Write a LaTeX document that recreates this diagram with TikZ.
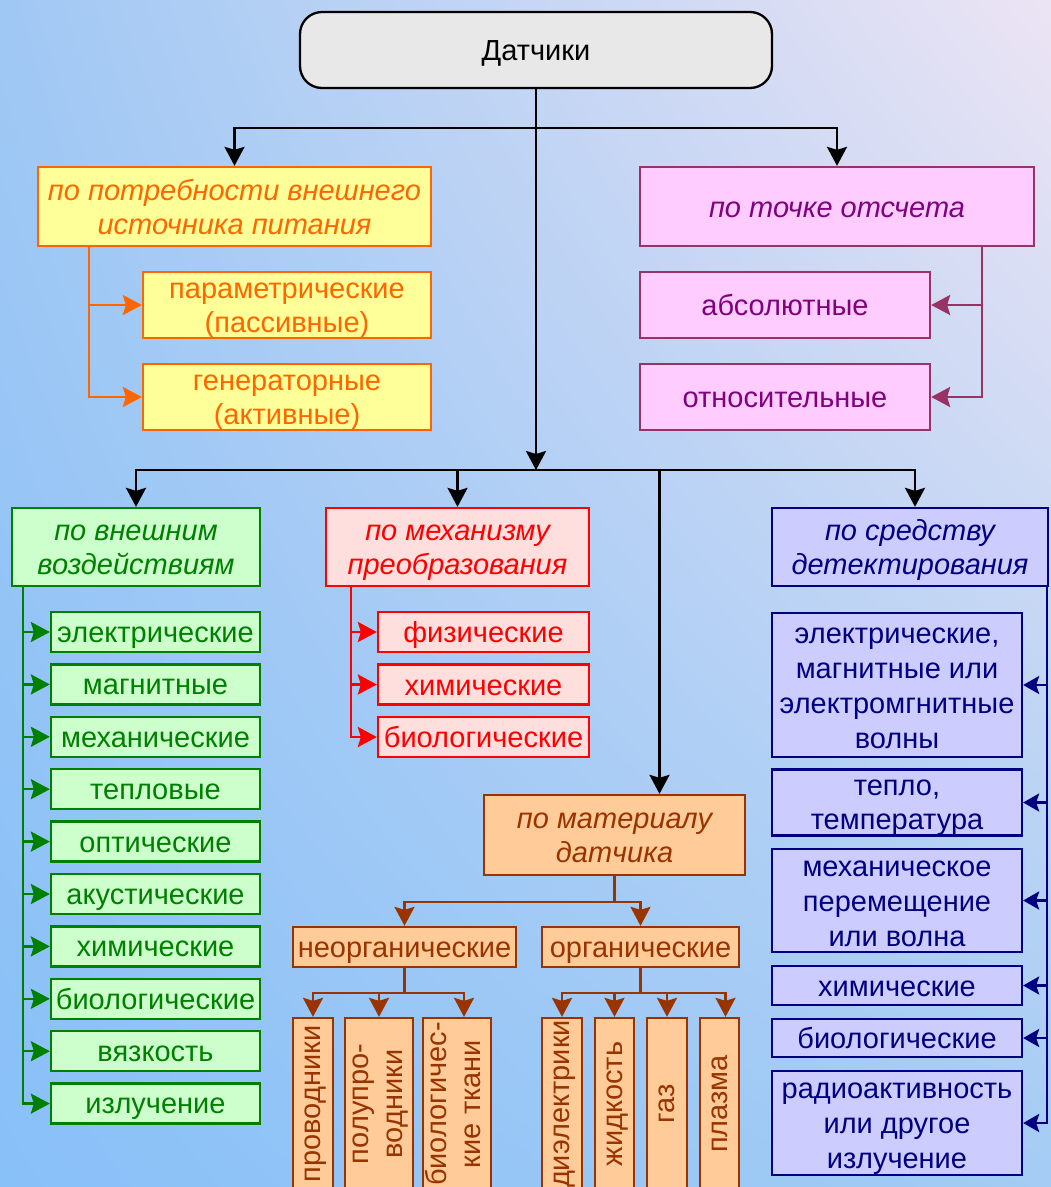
\documentclass[tikz,border=0pt]{standalone}
\usepackage{fontspec}
\setmainfont{Liberation Sans}
\usetikzlibrary{arrows.meta, shadings}

\definecolor{bgul}{RGB}{160,200,244}
\definecolor{bgur}{RGB}{236,228,244}
\definecolor{bgll}{RGB}{136,192,248}
\definecolor{bglr}{RGB}{164,204,244}
\definecolor{rootfill}{HTML}{E8E8E8}
\definecolor{orline}{HTML}{FF6600}
\definecolor{yelfill}{HTML}{FFFF99}
\definecolor{pkline}{HTML}{993366}
\definecolor{pktext}{HTML}{800080}
\definecolor{pkfill}{HTML}{FFCCFF}
\definecolor{grline}{HTML}{008000}
\definecolor{grfill}{HTML}{CCFFCC}
\definecolor{rdline}{HTML}{FF0000}
\definecolor{rdfill}{HTML}{FFDEDE}
\definecolor{blline}{HTML}{000080}
\definecolor{blfill}{HTML}{CCCCFF}
\definecolor{brline}{HTML}{993300}
\definecolor{brfill}{HTML}{FFCC99}

% struts keep every line of a box at the same height
\newcommand\boxstrut{\rule[-5pt]{0pt}{31pt}}
\newcommand\nl{\boxstrut\\\boxstrut}
\newcommand\vnl{\strut\\\strut}

\begin{document}
\begin{tikzpicture}[x=1pt, y=-1pt,
  box/.style={draw, line width=2.3pt, inner sep=0pt, align=center,
    font=\fontsize{29}{34}\selectfont,
    execute at begin node=\boxstrut, execute at end node=\boxstrut},
  hbox/.style={box, font=\fontsize{29}{34}\selectfont\itshape},
  vbox/.style={box, rotate=90, minimum width=172pt,
    execute at begin node=\strut, execute at end node=\strut},
  wire/.style={line width=2.5pt},
  tip/.style={wire, -{Stealth[length=19pt, width=20pt, inset=3pt]}},
  blkarr/.style={tip},
  orarr/.style={tip, orline},
  pkarr/.style={tip, pkline},
  grarr/.style={tip, grline},
  rdarr/.style={tip, rdline},
  blarr/.style={wire, blline, -{Stealth[length=16pt, width=18pt, inset=3pt]}},
  brarr/.style={tip, brline},
  orbox/.style={draw=orline, fill=yelfill, text=orline},
  pkbox/.style={draw=pkline, fill=pkfill, text=pktext},
  grbox/.style={draw=grline, fill=grfill, text=grline},
  rdbox/.style={draw=rdline, fill=rdfill, text=rdline},
  blbox/.style={draw=blline, fill=blfill, text=blline, font=\fontsize{29}{35}\selectfont},
  brbox/.style={draw=brline, fill=brfill, text=brline}]

  \useasboundingbox (0,0) rectangle (1051,1187);
  \clip (0,0) rectangle (1051,1187);
  \shade[upper left=bgul, upper right=bgur, lower left=bgll, lower right=bglr] (0,0) rectangle (1051,1187);

  % Root
  \node[box, rounded corners=22pt, fill=rootfill, minimum width=472pt, minimum height=76pt] (root) at (536,50) {Датчики};

  % Power source group
  \node[hbox, orbox, minimum width=393pt, minimum height=79pt] (power) at (234.5,206.5) {по потребности внешнего\nl источника питания};
  \node[box, orbox, minimum width=288pt, minimum height=66pt] (param) at (287,305) {параметрические\nl (пассивные)};
  \node[box, orbox, minimum width=288pt, minimum height=66pt] (gen) at (287,397) {генераторные\nl (активные)};

  % Reference point group
  \node[hbox, pkbox, minimum width=394pt, minimum height=79pt] (ref) at (837,206.5) {по точке отсчета};
  \node[box, pkbox, minimum width=290pt, minimum height=66pt] (abs) at (785,305) {абсолютные};
  \node[box, pkbox, minimum width=290pt, minimum height=66pt] (rel) at (785,397) {относительные};

  % External action group
  \node[hbox, grbox, minimum width=248pt, minimum height=78pt] (ext) at (136,547) {по внешним\nl воздействиям};
  \node[box, grbox, minimum width=209pt, minimum height=40pt] (e1) at (155.5,632) {электрические};
  \node[box, grbox, minimum width=209pt, minimum height=40pt] (e2) at (155.5,684.4) {магнитные};
  \node[box, grbox, minimum width=209pt, minimum height=40pt] (e3) at (155.5,736.8) {механические};
  \node[box, grbox, minimum width=209pt, minimum height=40pt] (e4) at (155.5,789.2) {тепловые};
  \node[box, grbox, minimum width=209pt, minimum height=40pt] (e5) at (155.5,841.6) {оптические};
  \node[box, grbox, minimum width=209pt, minimum height=40pt] (e6) at (155.5,894) {акустические};
  \node[box, grbox, minimum width=209pt, minimum height=40pt] (e7) at (155.5,946.4) {химические};
  \node[box, grbox, minimum width=209pt, minimum height=40pt] (e8) at (155.5,998.8) {биологические};
  \node[box, grbox, minimum width=209pt, minimum height=40pt] (e9) at (155.5,1051.2) {вязкость};
  \node[box, grbox, minimum width=209pt, minimum height=40pt] (e10) at (155.5,1103.6) {излучение};

  % Conversion mechanism group
  \node[hbox, rdbox, minimum width=263pt, minimum height=78pt] (mech) at (457.5,547) {по механизму\nl преобразования};
  \node[box, rdbox, minimum width=211pt, minimum height=40pt] (m1) at (483.5,632) {физические};
  \node[box, rdbox, minimum width=211pt, minimum height=40pt] (m2) at (483.5,684.5) {химические};
  \node[box, rdbox, minimum width=211pt, minimum height=40pt] (m3) at (483.5,737) {биологические};

  % Detection group
  \node[hbox, blbox, font=\fontsize{29}{34}\selectfont\itshape, minimum width=276pt, minimum height=78pt] (det) at (910,547) {по средству\nl детектирования};
  \node[box, blbox, minimum width=250pt, minimum height=144pt] (d1) at (897,685) {электрические,\nl магнитные или\nl электромгнитные\nl волны};
  \node[box, blbox, font=\fontsize{29}{34}\selectfont, minimum width=250pt, minimum height=65pt] (d2) at (897,802.5) {тепло,\nl температура};
  \node[box, blbox, minimum width=250pt, minimum height=103pt] (d3) at (897,900.5) {механическое\nl перемещение\nl или волна};
  \node[box, blbox, minimum width=250pt, minimum height=39pt] (d4) at (897,985.5) {химические};
  \node[box, blbox, minimum width=250pt, minimum height=38pt] (d5) at (897,1038) {биологические};
  \node[box, blbox, minimum width=250pt, minimum height=104pt] (d6) at (897,1123) {радиоактивность\nl или другое\nl излучение};

  % Material group
  \node[hbox, brbox, minimum width=261pt, minimum height=80pt] (mat) at (614.5,835) {по материалу\nl датчика};
  \node[box, brbox, minimum width=223pt, minimum height=40pt] (inorg) at (404.5,947) {неорганические};
  \node[box, brbox, minimum width=197pt, minimum height=40pt] (orgn) at (640.5,947) {органические};
  \node[vbox, brbox, minimum height=40pt] (prov) at (313,1104) {проводники};
  \node[vbox, brbox, minimum height=66pt] (semi) at (379,1104) {полупро-\vnl водники};
  \node[vbox, brbox, minimum height=66pt] (bio) at (457,1104) {биологичес-\vnl кие ткани};
  \node[vbox, brbox, minimum height=40pt] (diel) at (562,1104) {диэлектрики};
  \node[vbox, brbox, minimum height=39pt] (liq) at (614.5,1104) {жидкость};
  \node[vbox, brbox, minimum height=40pt] (gas) at (667,1104) {газ};
  \node[vbox, brbox, minimum height=39pt] (plasma) at (719.5,1104) {плазма};

  % Main connectors
  \coordinate (busTop) at (536,128);
  \coordinate (busLow) at (536,470);
  \draw[wire] (root.south) -- (busTop);
  \draw[blkarr] (busTop) -| (power.north);
  \draw[blkarr] (busTop) -| (ref.north);
  \draw[blkarr] (busTop) -- (busLow);
  \draw[blkarr] (busLow) -| (ext.north);
  \draw[blkarr] (busLow) -| (mech.north);
  \draw[blkarr] (busLow) -| ([xshift=5pt]det.north);
  \draw[blkarr] (busLow) -| ([xshift=45pt]mat.north);

  % Group connectors
  \coordinate (pwStem) at ([xshift=52pt]power.south west);
  \draw[orarr] (pwStem) |- (param.west);
  \draw[orarr] (pwStem) |- (gen.west);

  \coordinate (refStem) at ([xshift=-53pt]ref.south east);
  \draw[pkarr] (refStem) |- (abs.east);
  \draw[pkarr] (refStem) |- (rel.east);

  \coordinate (extStem) at ([xshift=12pt]ext.south west);
  \draw[grarr] (extStem) |- (e1.west);
  \draw[grarr] (extStem) |- (e2.west);
  \draw[grarr] (extStem) |- (e3.west);
  \draw[grarr] (extStem) |- (e4.west);
  \draw[grarr] (extStem) |- (e5.west);
  \draw[grarr] (extStem) |- (e6.west);
  \draw[grarr] (extStem) |- (e7.west);
  \draw[grarr] (extStem) |- (e8.west);
  \draw[grarr] (extStem) |- (e9.west);
  \draw[grarr] (extStem) |- (e10.west);

  \coordinate (mechStem) at ([xshift=26pt]mech.south west);
  \draw[rdarr] (mechStem) |- (m1.west);
  \draw[rdarr] (mechStem) |- (m2.west);
  \draw[rdarr] (mechStem) |- (m3.west);

  \coordinate (detStem) at ([xshift=-2pt]det.south east);
  \draw[blarr] (detStem) |- (d1.east);
  \draw[blarr] (detStem) |- (d2.east);
  \draw[blarr] (detStem) |- (d3.east);
  \draw[blarr] (detStem) |- (d4.east);
  \draw[blarr] (detStem) |- (d5.east);
  \draw[blarr] (detStem) |- (d6.east);

  \coordinate (matBus) at ([yshift=-26pt]mat.south);
  \draw[wire, brline] (mat.south) -- (matBus);
  \draw[brarr] (matBus) -| (inorg.north);
  \draw[brarr] (matBus) -| (orgn.north);

  \coordinate (inorgBus) at ([yshift=-25pt]inorg.south);
  \draw[wire, brline] (inorg.south) -- (inorgBus);
  \draw[brarr] (inorgBus) -| (prov.east);
  \draw[brarr] (inorgBus) -| (semi.east);
  \draw[brarr] (inorgBus) -| ([xshift=7pt]bio.east);

  \coordinate (orgBus) at ([yshift=-25pt]orgn.south);
  \draw[wire, brline] (orgn.south) -- (orgBus);
  \draw[brarr] (orgBus) -| (diel.east);
  \draw[brarr] (orgBus) -| (liq.east);
  \draw[brarr] (orgBus) -| (gas.east);
  \draw[brarr] (orgBus) -| ([xshift=6pt]plasma.east);
\end{tikzpicture}
\end{document}
